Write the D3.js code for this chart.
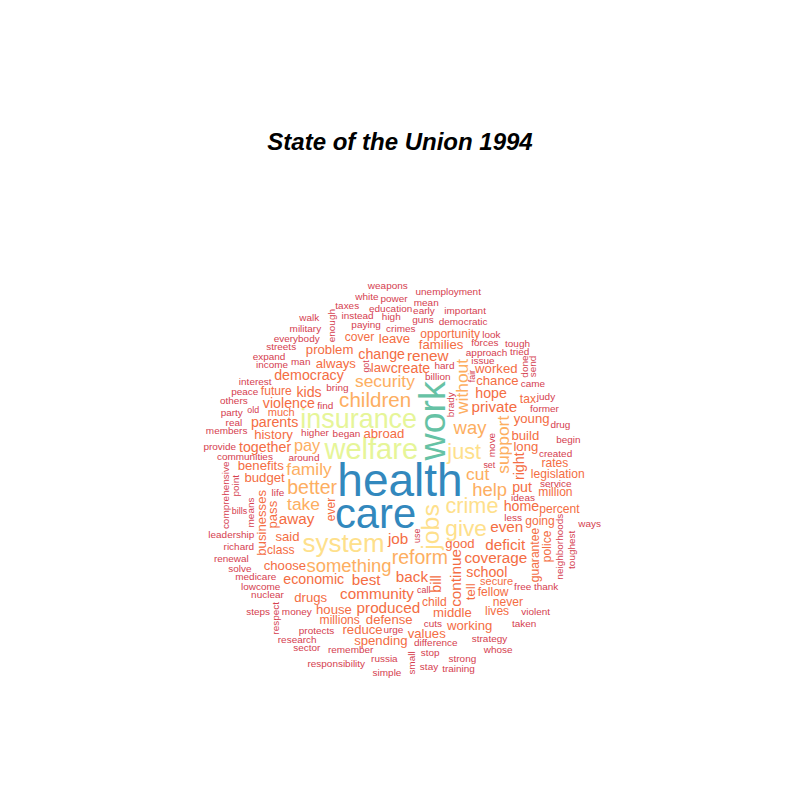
<!DOCTYPE html>
<html><head><meta charset="utf-8">
<script src="https://cdn.jsdelivr.net/npm/d3@7"></script>
<style>body{margin:0;background:#fff}</style>
</head><body>
<svg id="chart" width="800" height="800"></svg>
<script>
const words = [
"health","care","work","welfare","insurance","system","jobs","give","crime","just",
"children","reform","better","help","way","something","security","family","take","cut",
"without","support","pay","produced","renew","deficit","even","coverage","private","community",
"back","best","job","away","continue","together","change","economic","school","home",
"hope","democracy","violence","create","put","right","parents","kids","bill","problem",
"drugs","build","families","history","leave","spending","said","values","house","benefits",
"pass","defense","chance","businesses","abroad","law","always","reduce","good","tell",
"young","choose","working","long","worked","budget","middle","legislation","percent","tax",
"opportunity","millions","lives","going","child","cover","rates","future","million","fellow",
"police","guarantee","ever","never","class","secure","much","call","old","fair",
"use","got","set","bills","unemployment","responsibility","members","interest","communities","free",
"begin","began","simple","higher","whose","expand","difference","peace","power","stop",
"ideas","former","early","protects","cuts","mean","tried","came","neighborhoods","comprehensive",
"lowcome","solve","party","enough","richard","brady","send","respect","issue","around",
"tough","point","done","taxes","hard","high","weapons","move","thank","real",
"instead","training","forces","find","service","toughest","guns","medicare","small","violent",
"money","urge","crimes","stay","judy","sector","man","white","income","less",
"strong","life","others","steps","renewal","education","ways","approach","taken","drug",
"look","streets","billion","created","nuclear","military","democratic","means","bring","important",
"provide","paying","leadership","everybody","remember","strategy","research","russia","walk"
];
const counts = [
38,34,30,22,20,19,18,16,15,15,
14,13,13,12,12,12,11,11,11,11,
11,11,10,9,9,9,9,9,9,9,
9,9,9,9,9,8,8,8,8,8,
8,8,8,8,8,8,8,8,8,7,
7,7,7,7,7,7,7,7,7,7,
7,7,7,7,7,7,7,7,7,7,
7,7,7,7,7,7,7,6,6,6,
6,6,6,6,6,6,6,6,6,6,
6,6,6,6,6,5,5,3,3,3,
3,3,3,3,4,4,4,4,4,4,
4,4,4,4,4,4,4,4,4,4,
4,4,4,4,4,4,4,4,4,4,
4,4,4,4,4,4,4,4,4,4,
4,4,4,4,4,4,4,4,4,4,
4,4,4,4,4,4,4,4,4,4,
4,4,4,4,4,4,4,4,4,4,
4,4,4,4,4,4,4,4,4,4,
4,4,4,4,4,4,4,4,4,4,
4,4,4,4,4,4,4,4,4
];
const rotatedWords = ["work","jobs","without","continue","support","bill","small","businesses","guarantee",
"toughest","move","neighborhoods","comprehensive","done","ever","right","fair","pass","police","got",
"brady","respect","send","enough","point","means","use","tell"];
const titleText = "State of the Union 1994";

const palette = d3.schemeSpectral[8];
const cx = 400, cy = 480, unit = 640;
const baseFont = 11.5;
const rstep = 0.05, tstep = 0.1;
const layoutSeed = 13;
const fontFamily = "'Liberation Sans', Arial, Helvetica, sans-serif";

const svg = d3.select("#chart");
const maxCount = d3.max(counts);
const sizeScale = d3.scaleLinear().domain([0, maxCount]).range([baseFont * 0.5, baseFont * 4]);
const binScale = d3.scaleLinear().domain([0, maxCount]).range([0, palette.length]);
const colorScale = d3.scaleOrdinal().domain(d3.range(1, palette.length + 1)).range(palette);
const colorOf = c => colorScale(Math.ceil(binScale(c) - 1e-9));
const xScale = d3.scaleLinear().domain([0, 1]).range([cx - unit / 2, cx + unit / 2]);
const yScale = d3.scaleLinear().domain([0, 1]).range([cy + unit / 2, cy - unit / 2]);

svg.append("text")
  .attr("x", 400).attr("y", 150)
  .attr("text-anchor", "middle")
  .attr("font-family", fontFamily)
  .attr("font-size", 24)
  .attr("font-weight", "bold")
  .attr("font-style", "italic")
  .text(titleText);

const meas = svg.append("text").attr("font-family", fontFamily).style("visibility", "hidden");
function measure(w, fs) { meas.attr("font-size", fs).text(w); return meas.node().getComputedTextLength(); }

function mulberry32(a){return function(){a|=0;a=a+0x6D2B79F5|0;let t=Math.imul(a^a>>>15,1|a);t=t+Math.imul(t^t>>>7,61|t)^t;return((t^t>>>14)>>>0)/4294967296;};}

function overlap(x, y, w, h, boxes) {
  for (const b of boxes) {
    if (x < b[0] + b[2] && b[0] < x + w && y < b[1] + b[3] && b[1] < y + h) return true;
  }
  return false;
}

const items = words.map((w, i) => ({ text: w, count: counts[i], rot: rotatedWords.includes(w) }));
items.sort((a, b) => b.count - a.count || d3.ascending(a.text, b.text));
items.forEach(it => {
  it.fs = sizeScale(it.count);
  let wid = measure(it.text, it.fs) / unit;
  let ht = 0.716 * it.fs / unit;
  if (/[gjpqy]/.test(it.text)) ht *= 1.2;
  if (it.rot) [wid, ht] = [ht, wid];
  it.wid = wid; it.ht = ht;
});
meas.remove();

function layout(seed) {
  const rand = mulberry32(seed);
  const boxes = [], placed = [];
  for (const it of items) {
    let r = 0, theta = rand() * 2 * Math.PI, x1 = 0.5, y1 = 0.5;
    const wid = it.wid, ht = it.ht;
    while (true) {
      const bx = x1 - wid / 2, by = y1 - ht / 2;
      if (!overlap(bx, by, wid, ht, boxes) && bx > 0 && by > 0 && bx + wid < 1 && by + ht < 1) {
        boxes.push([bx, by, wid, ht]);
        placed.push(Object.assign({}, it, { x: x1, y: y1 }));
        break;
      }
      if (r > Math.SQRT1_2) break;
      theta += tstep;
      r += rstep * tstep / (2 * Math.PI);
      x1 = 0.5 + r * Math.cos(theta);
      y1 = 0.5 + r * Math.sin(theta);
    }
  }
  return placed;
}

svg.append("g").selectAll("text.word").data(layout(layoutSeed)).join("text").attr("class", "word")
  .attr("transform", d => `translate(${xScale(d.x)},${yScale(d.y)})` + (d.rot ? " rotate(-90)" : ""))
  .attr("y", d => 0.358 * d.fs)
  .attr("text-anchor", "middle")
  .attr("font-size", d => d.fs)
  .attr("font-family", fontFamily)
  .attr("fill", d => colorOf(d.count))
  .text(d => d.text);
</script>
</body></html>
